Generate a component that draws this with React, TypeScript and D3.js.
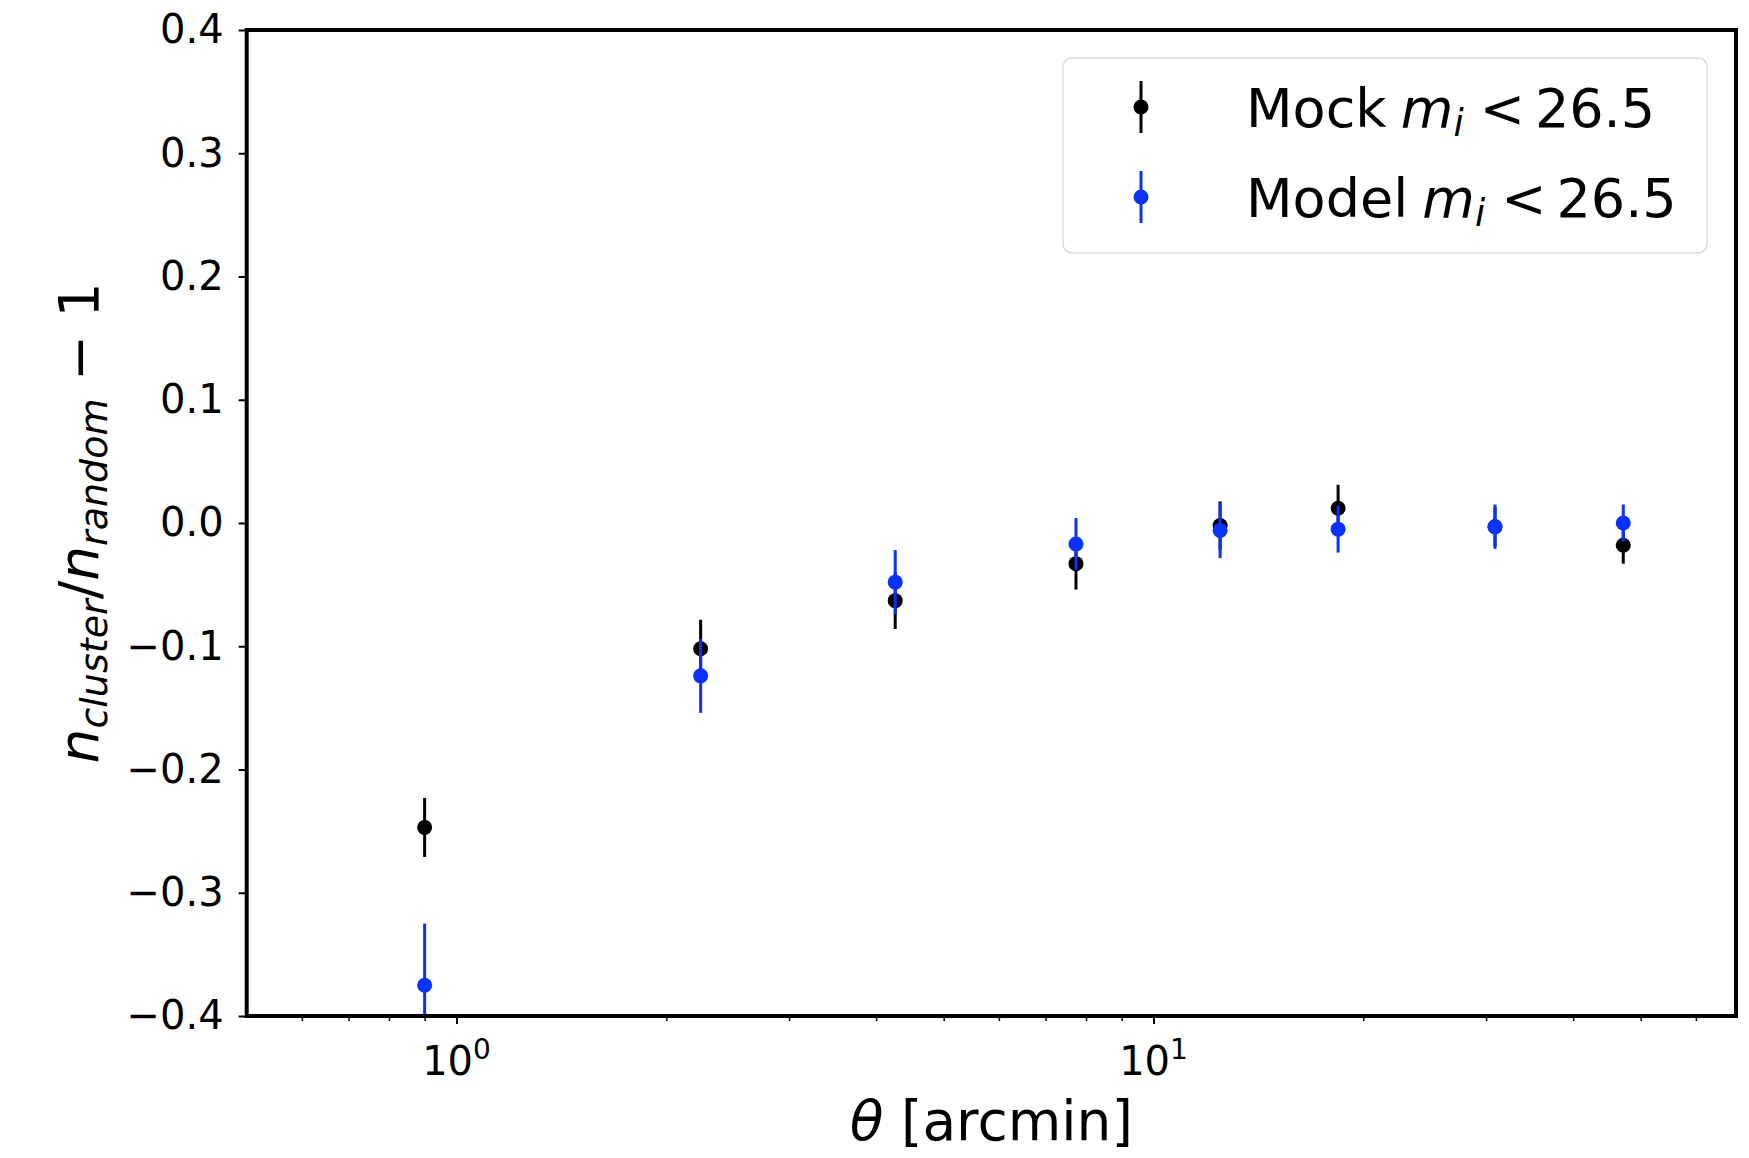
import * as d3 from 'd3'
import { useEffect, useRef } from 'react'

// angular bins [arcmin]
const theta = [0.9, 2.24, 4.26, 7.74, 12.46, 18.4, 30.9, 47.2]
// Mock m_i < 26.5
const mockVal = [-0.247, -0.102, -0.063, -0.033, -0.002, 0.012, -0.003, -0.018]
const mockErr = [0.024, 0.0235, 0.023, 0.021, 0.0195, 0.019, 0.016, 0.015]
// Model m_i < 26.5
const modelVal = [-0.375, -0.124, -0.048, -0.017, -0.006, -0.005, -0.003, 0.0]
const modelErr = [0.05, 0.03, 0.026, 0.021, 0.0225, 0.019, 0.018, 0.015]

const yTicks = [-0.4, -0.3, -0.2, -0.1, 0.0, 0.1, 0.2, 0.3, 0.4]
const xMajorTicks = [1, 10]
const xMajorExp = ['0', '1']
const xMinorTicks = [0.6, 0.7, 0.8, 0.9, 2, 3, 4, 5, 6, 7, 8, 9, 20, 30, 40, 50, 60]
const seriesNames = ['Mock', 'Model']
const seriesColors = ['#000000', '#0a32ff']

const App = () => {
  const svgRef = useRef<SVGSVGElement | null>(null)
  const width = 1749
  const height = 1158
  const left = 246.7
  const right = 1736
  const top = 30
  const bottom = 1016
  const font = 'DejaVu Sans, sans-serif'

  useEffect(() => {
    const svg = d3.select(svgRef.current)
    svg.selectAll('*').remove()

    const x = d3.scaleLog().domain([0.5, 68.5]).range([left, right])
    const y = d3.scaleLinear().domain([-0.4, 0.4]).range([bottom, top])

    svg.append('defs').append('clipPath').attr('id', 'plotclip')
      .append('rect')
      .attr('x', left).attr('y', top)
      .attr('width', right - left).attr('height', bottom - top)

    // data: errorbars + dots
    const series = [
      { v: mockVal, e: mockErr },
      { v: modelVal, e: modelErr },
    ]
    series.forEach((s, k) => {
      const g = svg.append('g').attr('clip-path', 'url(#plotclip)')
      const pts = theta.map((t, i) => ({ t, v: s.v[i], e: s.e[i] }))
      g.selectAll('line').data(pts).join('line')
        .attr('x1', d => x(d.t)).attr('x2', d => x(d.t))
        .attr('y1', d => y(d.v - d.e)).attr('y2', d => y(d.v + d.e))
        .attr('stroke', seriesColors[k]).attr('stroke-width', 3)
      g.selectAll('circle').data(pts).join('circle')
        .attr('cx', d => x(d.t)).attr('cy', d => y(d.v))
        .attr('r', 7.5).attr('fill', seriesColors[k])
    })

    // y axis
    svg.append('g')
      .attr('transform', `translate(${left},0)`)
      .call(d3.axisLeft(y).tickValues(yTicks).tickSize(8).tickPadding(15)
        .tickFormat(d => d3.format('.1f')(d as number).replace('-', '\u2212')))
      .call(g => g.select('.domain').remove())
      .call(g => g.selectAll('.tick line').attr('stroke-width', 2))
      .call(g => g.selectAll('.tick text')
        .attr('font-size', 40).attr('font-family', font).attr('fill', '#000'))

    // x axis minor ticks
    svg.append('g')
      .attr('transform', `translate(0,${bottom})`)
      .call(d3.axisBottom(x).tickValues(xMinorTicks).tickSize(5).tickFormat(() => ''))
      .call(g => g.select('.domain').remove())
      .call(g => g.selectAll('.tick line').attr('stroke-width', 1.5))

    // x axis major ticks
    svg.append('g')
      .attr('transform', `translate(0,${bottom})`)
      .call(d3.axisBottom(x).tickValues(xMajorTicks).tickSize(8).tickFormat(() => ''))
      .call(g => g.select('.domain').remove())
      .call(g => g.selectAll('.tick line').attr('stroke-width', 2))

    xMajorTicks.forEach((t, i) => {
      const txt = svg.append('text')
        .attr('x', x(t)).attr('y', 1075)
        .attr('text-anchor', 'middle')
        .attr('font-family', font).attr('font-size', 40)
      txt.append('tspan').text('10')
      txt.append('tspan').attr('font-size', 28).attr('dy', -16).text(xMajorExp[i])
    })

    // spines
    svg.append('rect')
      .attr('x', left).attr('y', top)
      .attr('width', right - left).attr('height', bottom - top)
      .attr('fill', 'none').attr('stroke', '#000').attr('stroke-width', 4)

    // x label
    const xl = svg.append('text')
      .attr('x', (left + right) / 2).attr('y', 1140)
      .attr('text-anchor', 'middle')
      .attr('font-family', font).attr('font-size', 55)
    xl.append('tspan').attr('font-style', 'italic').text('\u03b8')
    xl.append('tspan').text(' [arcmin]')

    // y label
    const yl = svg.append('text')
      .attr('transform', `translate(98,${(top + bottom) / 2}) rotate(-90)`)
      .attr('text-anchor', 'middle')
      .attr('font-family', font).attr('font-size', 55)
    yl.append('tspan').attr('font-style', 'italic').text('n')
    yl.append('tspan').attr('font-style', 'italic').attr('font-size', 38).attr('dy', 9).text('cluster')
    yl.append('tspan').attr('dy', -9).text('/')
    yl.append('tspan').attr('font-style', 'italic').text('n')
    yl.append('tspan').attr('font-style', 'italic').attr('font-size', 38).attr('dy', 9).text('random')
    yl.append('tspan').attr('dy', -9).text(' \u2212 1')

    // legend
    const lg = svg.append('g')
    lg.append('rect')
      .attr('x', 1063).attr('y', 58).attr('width', 644).attr('height', 195)
      .attr('rx', 9).attr('fill', '#fff').attr('fill-opacity', 0.8)
      .attr('stroke', '#dcdcdc').attr('stroke-width', 1.5)
    const rows = [107, 197]
    seriesNames.forEach((name, k) => {
      const cy = rows[k]
      lg.append('line')
        .attr('x1', 1141).attr('x2', 1141)
        .attr('y1', cy - 26).attr('y2', cy + 26)
        .attr('stroke', seriesColors[k]).attr('stroke-width', 3)
      lg.append('circle').attr('cx', 1141).attr('cy', cy).attr('r', 7.5).attr('fill', seriesColors[k])
      const t = lg.append('text')
        .attr('x', 1246).attr('y', cy + 20)
        .attr('font-family', font).attr('font-size', 54)
      t.append('tspan').text(name + ' ')
      t.append('tspan').attr('font-style', 'italic').attr('dx', -3).text('m')
      t.append('tspan').attr('font-style', 'italic').attr('font-size', 37).attr('dy', 9).text('i')
      t.append('tspan').attr('dy', -9).attr('dx', 16).text('<')
      t.append('tspan').attr('dx', 10).text('26.5')
    })
  }, [])

  return (
    <svg
      ref={svgRef}
      width={width}
      height={height}
      viewBox={`0 0 ${width} ${height}`}
      style={{ position: 'absolute', left: 0, top: 0, background: '#fff' }}
    />
  )
}

export default App
